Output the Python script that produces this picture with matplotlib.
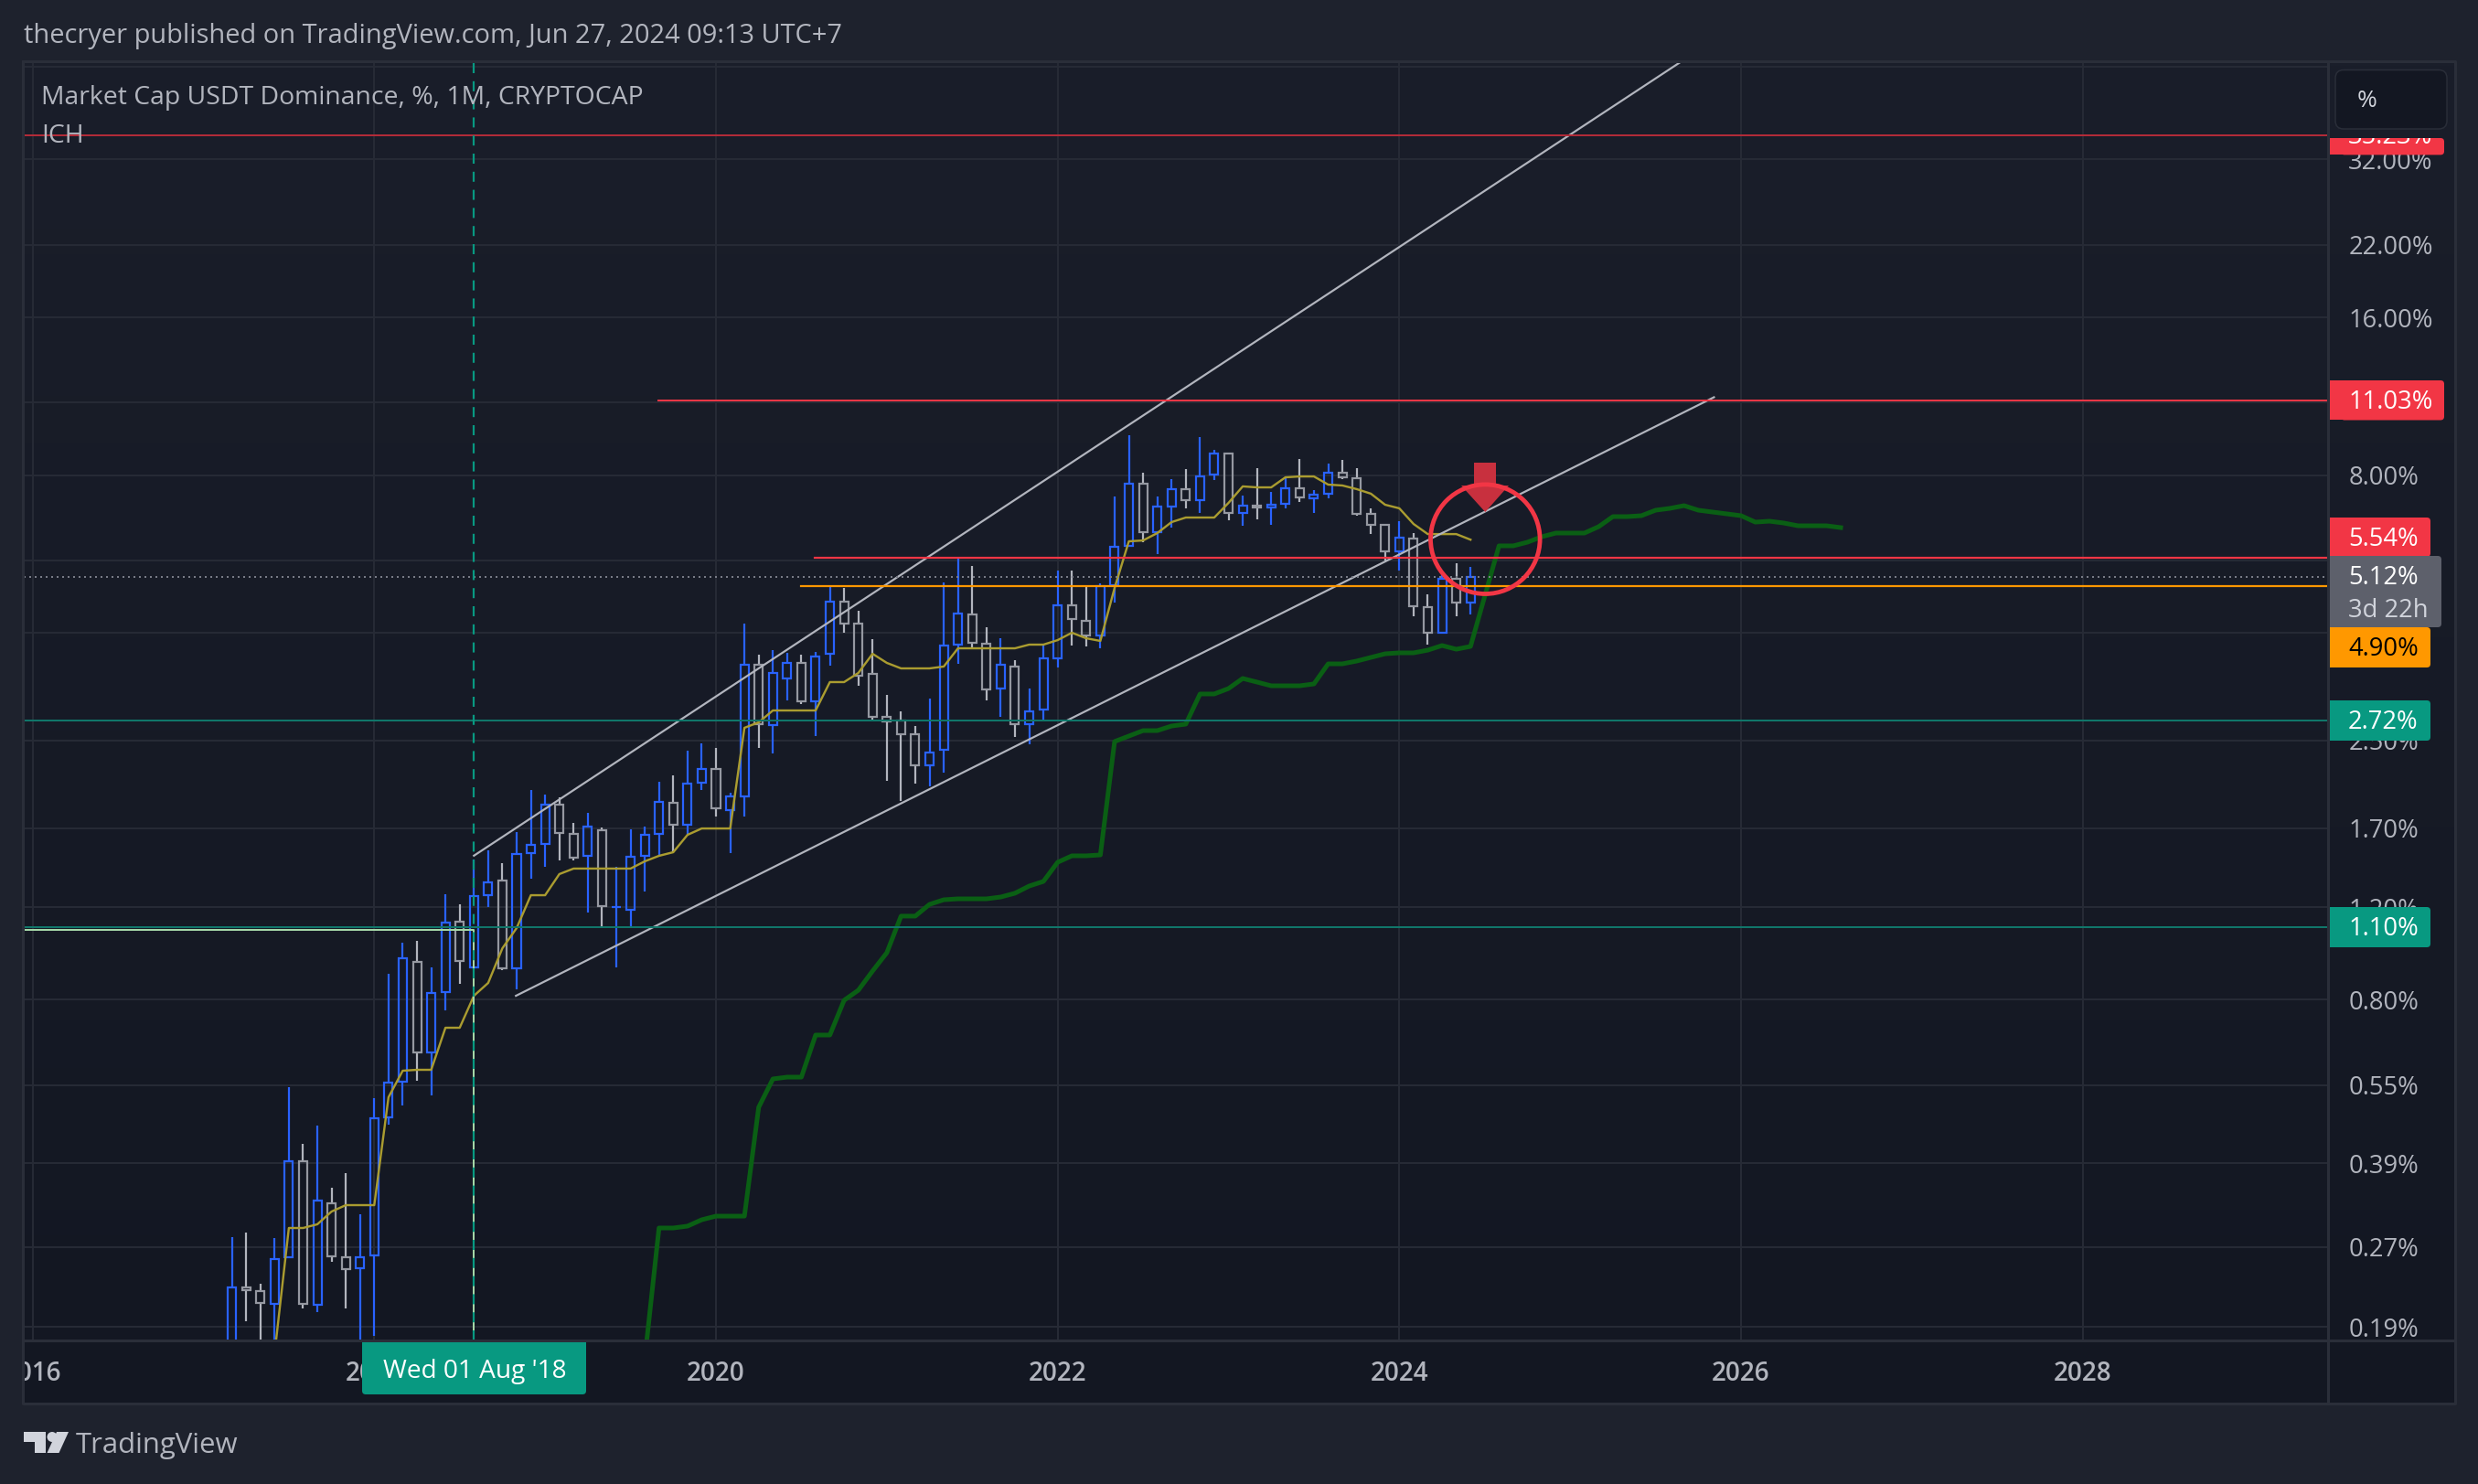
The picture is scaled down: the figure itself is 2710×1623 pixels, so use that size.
import numpy as np
import matplotlib
matplotlib.use('Agg')
import matplotlib.pyplot as plt
from matplotlib.patches import Rectangle, FancyBboxPatch, Circle, Polygon
from matplotlib.colors import LinearSegmentedColormap

plt.rcParams['font.family'] = ['Open Sans', 'DejaVu Sans']

# ---------- data (percent) : months since Aug 2018 ----------
months = list(range(-17, 71))
opens = [0.1564,0.2263,0.2226,0.2105,0.2583,0.3937,0.2096,0.3273,0.2583,0.2462,0.2604,0.4774,0.5583,0.9446,0.6348,
 0.8274,1.127,0.9222,1.266,1.35,0.9185,1.523,1.586,1.884,1.657,1.505,1.684,1.202,1.188,1.505,1.657,1.899,
 1.725,2.075,2.204,1.839,1.954,3.482,2.672,3.279,3.511,2.966,3.654,4.594,4.172,3.345,2.77,2.726,2.567,2.239,
 2.397,3.804,4.343,3.819,3.137,3.455,2.683,2.861,3.582,4.521,4.223,3.96,4.938,5.869,7.711,6.233,6.974,7.527,
 7.173,8.026,8.803,6.781,7.002,6.946,7.059,7.557,7.231,7.378,8.091,7.899,6.754,6.436,5.729,6.06,4.485,4.008,
 5.079,4.576]
highs = [0.2822,0.2879,0.2299,0.281,0.545,0.4249,0.4605,0.3505,0.3737,0.3119,0.5194,0.8966,1.028,1.036,0.9222,1.271,
 1.216,1.481,1.542,1.457,1.67,2.009,1.969,1.946,1.739,1.817,1.704,1.434,1.691,1.711,2.083,2.143,2.388,2.466,
 2.417,1.985,4.172,3.64,3.713,3.669,3.64,3.684,4.938,4.879,4.413,3.897,3.05,2.838,2.661,3.002,4.998,5.57,
 5.373,4.106,3.912,3.553,3.137,3.819,5.266,5.266,4.918,4.978,7.289,9.539,8.091,7.289,7.867,8.222,9.463,8.945,
 8.803,7.319,8.255,7.437,7.93,8.593,7.497,8.423,8.559,8.255,6.919,6.436,6.54,6.208,4.744,5.224,5.438,5.351]
lows = [0.1443,0.195,0.1628,0.1628,0.2583,0.2063,0.203,0.2532,0.2063,0.1502,0.1829,0.4623,0.503,0.5606,0.5257,
 0.7636,0.8579,0.9222,1.202,0.9111,0.8375,1.361,1.434,1.475,1.475,1.173,1.105,0.9222,1.1,1.287,1.505,1.529,
 1.65,2.009,1.788,1.523,1.788,2.417,2.359,2.978,2.93,2.546,3.469,4.008,3.175,2.726,2.092,1.915,2.067,2.042,
 2.168,3.496,3.728,2.978,2.77,2.536,2.456,2.726,3.441,3.789,3.774,3.743,4.576,5.869,5.964,5.66,6.359,6.919,
 6.781,7.835,6.567,6.41,6.593,6.436,6.919,7.116,6.781,7.231,7.867,6.7,6.183,5.504,5.266,4.308,3.804,4.008,
 4.308,4.343]
closes = [0.2263,0.2235,0.2113,0.2562,0.3937,0.2105,0.3313,0.2593,0.2452,0.2583,0.4755,0.5561,0.9599,0.6348,0.8241,
 1.123,0.9484,1.261,1.34,0.9185,1.517,1.579,1.884,1.664,1.493,1.711,1.207,1.202,1.499,1.65,1.907,1.725,2.067,
 2.204,1.854,1.954,3.482,2.683,3.359,3.511,2.966,3.611,4.594,4.172,3.319,2.77,2.715,2.567,2.239,2.369,3.789,
 4.36,3.835,3.125,3.482,2.683,2.838,3.582,4.521,4.257,3.96,4.918,5.845,7.711,6.233,6.974,7.527,7.173,7.962,
 8.803,6.781,7.002,6.946,7.031,7.557,7.26,7.348,8.091,7.93,6.754,6.436,5.729,6.085,4.503,4.008,5.079,4.576,
 5.12]
# conversion line (months -14 .. 70)
conv_m = list(range(-14, 71))
conv_v = [0.1695,0.2937,0.2937,0.2985,0.3157,0.3247,0.3247,0.3247,0.5215,0.5859,0.5882,0.5882,0.7075,0.7075,0.8142,
 0.8613,1.003,1.096,1.266,1.266,1.389,1.423,1.423,1.423,1.423,1.423,1.469,1.505,1.529,1.65,1.697,1.697,1.697,
 2.64,2.704,2.849,2.849,2.849,2.849,3.227,3.227,3.359,3.654,3.511,3.427,3.427,3.427,3.455,3.743,3.743,3.743,3.743,3.743,
 3.804,3.804,3.88,4.008,3.912,3.866,4.879,5.987,6.01,6.208,6.514,6.646,6.646,6.646,7.087,7.62,7.587,7.587,7.93,7.96,7.96,
 7.68,7.65,7.53,7.38,7.03,6.92,6.46,6.18,6.18,6.18,6.03]
# leading span (months 12 .. 96)
span_m = list(range(12, 97))
span_v = [0.1654,0.2937,0.2937,0.2961,0.3045,0.3094,0.3094,0.3094,0.4989,0.5651,0.5696,0.5696,0.6852,0.6852,0.7981,
 0.8341,0.9075,0.9833,1.155,1.155,1.216,1.241,1.246,1.246,1.246,1.256,1.277,1.318,1.345,1.463,1.505,1.505,1.511,
 2.486,2.546,2.608,2.608,2.661,2.683,3.063,3.063,3.137,3.279,3.227,3.175,3.175,3.175,3.201,3.496,3.496,3.539,3.596,
 3.654,3.669,3.669,3.713,3.789,3.728,3.774,4.706,5.869,5.869,5.964,6.109,6.208,6.208,6.208,6.385,6.673,6.673,6.7,
 6.863,6.919,7.002,6.863,6.808,6.754,6.7,6.514,6.54,6.488,6.41,6.41,6.41,6.359]
channel_upper_m = [0, 84.7]
channel_upper_v = [1.506, 49.0]
channel_lower_m = [2.95, 87.1]
channel_lower_v = [0.814, 11.27]
grid_vals = [48, 32, 22, 16, 11, 8, 5.5, 4, 2.5, 1.7, 1.2, 0.8, 0.55, 0.39, 0.27, 0.19]
grid_labels = ['', '32.00%', '22.00%', '16.00%', '11.00%', '8.00%', '5.50%', '4.00%', '2.50%', '1.70%', '1.20%',
               '0.80%', '0.55%', '0.39%', '0.27%', '0.19%']
year_m = [-31, -7, 17, 41, 65, 89, 113]
year_labels = ['2016', '2018', '2020', '2022', '2024', '2026', '2028']
level_top, level_res, level_red, level_last, level_org, level_t1, level_t2, level_path = 35.6, 11.11, 5.57, 5.12, 4.917, 2.726, 1.10, 1.087
level_starts = {'res': 12.95, 'red': 23.94, 'org': 22.97}

# ---------- figure ----------
W, H = 2710, 1623
BG, GRID, TXT = '#1e222d', '#262a35', '#b2b5be'
BLUE, GRAY, WICK = '#2962ff', '#9598a1', '#b2b5be'
RED, ORANGE, TEAL, TEAL_L = '#f23645', '#ff9800', '#089981', '#10766a'
PX = 0.72
fig = plt.figure(figsize=((W + .01) / 100, (H + .01) / 100), dpi=100, facecolor=BG)

# gradient panel
bg = fig.add_axes([0, 0, 1, 1], zorder=0)
bg.set_xlim(0, W); bg.set_ylim(H, 0); bg.axis('off')
cm = LinearSegmentedColormap.from_list('g', ['#1a1e2a', '#131722'])
bg.imshow(np.linspace(0, 1, 256)[:, None], cmap=cm, extent=[25, 2685, 1535, 67], aspect='auto', zorder=0)
bg.set_xlim(0, W); bg.set_ylim(H, 0)

# main axes
L_, R_, T_, B_ = 26, 2546, 67, 1466
ax = fig.add_axes([L_ / W, 1 - B_ / H, (R_ - L_) / W, (B_ - T_) / H], zorder=1)
ax.patch.set_alpha(0)
ax.set_yscale('log')
ax.set_xlim((L_ - 518.3) / 15.57, (R_ - 518.3) / 15.57)
ax.set_ylim(0.19 * np.exp((1451.5 - B_) / 249.1), 0.19 * np.exp((1451.5 - T_) / 249.1))
for s in ax.spines.values():
    s.set_visible(False)
ax.yaxis.tick_right()
ax.yaxis.set_major_locator(plt.FixedLocator(grid_vals))
ax.yaxis.set_major_formatter(plt.FixedFormatter(grid_labels))
ax.yaxis.set_minor_locator(plt.NullLocator())
ax.set_xticks(year_m, year_labels)
ax.tick_params(axis='y', length=0, pad=16, labelsize=19.7, labelcolor=TXT)
ax.tick_params(axis='x', length=0, pad=16, labelsize=20, labelcolor=TXT)
for lab in ax.get_xticklabels():
    lab.set_fontweight('semibold')
ax.grid(True, color=GRID, lw=2 * PX, zorder=0)
ax.set_axisbelow(True)

# candles
m = np.array(months, float)
o, h, l, c = map(np.array, (opens, highs, lows, closes))
up = c >= o
top, bot = np.maximum(o, c), np.minimum(o, c)
ax.vlines(m, top, h, colors=[BLUE if u else WICK for u in up], lw=2.2 * PX, zorder=3)
ax.vlines(m, l, bot, colors=[BLUE if u else WICK for u in up], lw=2.2 * PX, zorder=3)
ax.bar(m, top - bot, bottom=bot, width=0.58, facecolor='none',
       edgecolor=[BLUE if u else GRAY for u in up], lw=2.2 * PX, zorder=3)

# ichimoku
ax.plot(conv_m, conv_v, color='#aa9c30', lw=2.4 * PX, zorder=3.5, solid_joinstyle='round')
ax.plot(span_m, span_v, color='#0a5f14', lw=5 * PX, zorder=2.5, solid_joinstyle='round')

# drawings
xl = ax.get_xlim()
ax.plot([xl[0], 0, 0], [level_path, level_path, 0.1], color='#a5d6a7', lw=2 * PX, zorder=4)
ax.axvline(0, color=TEAL, lw=2.2 * PX, ls=(0, (5, 4)), zorder=4.1)
ax.plot(channel_upper_m, channel_upper_v, color=WICK, lw=2.2 * PX, zorder=4)
ax.plot(channel_lower_m, channel_lower_v, color=WICK, lw=2.2 * PX, zorder=4)
ax.plot(xl, [level_top] * 2, color='#b22b38', lw=2 * PX, zorder=4)
ax.plot([level_starts['res'], xl[1]], [level_res] * 2, color=RED, lw=2 * PX, zorder=4)
ax.plot([level_starts['red'], xl[1]], [level_red] * 2, color=RED, lw=2.2 * PX, zorder=4)
ax.plot([level_starts['org'], xl[1]], [level_org] * 2, color=ORANGE, lw=2.2 * PX, zorder=4)
ax.plot(xl, [level_last] * 2, color='#787b86', lw=2 * PX, ls=(0, (1, 2)), zorder=4)
ax.plot(xl, [level_t1] * 2, color=TEAL_L, lw=2 * PX, zorder=4)
ax.plot(xl, [level_t2] * 2, color=TEAL_L, lw=2 * PX, zorder=4)

# overlay in pixels
ov = fig.add_axes([0, 0, 1, 1], zorder=5)
ov.set_xlim(0, W); ov.set_ylim(H, 0); ov.axis('off'); ov.patch.set_alpha(0)
FR = '#2a2e39'
ov.add_patch(Rectangle((0, 1467), 25, 68, fc=BG, ec='none'))
ov.plot([25, 2685, 2685, 25, 25], [67, 67, 1535, 1535, 67], color=FR, lw=3 * PX)
ov.plot([2546, 2546], [67, 1535], color=FR, lw=3 * PX)
ov.plot([25, 2685], [1466, 1466], color=FR, lw=3 * PX)

# arrow + circle
ov.add_patch(Polygon([(1612, 506), (1636, 506), (1636, 531), (1650, 531), (1624.3, 560), (1598, 531), (1612, 531)],
                     closed=True, fc='#c8303e', ec='none'))
ov.add_patch(Circle((1624.3, 589.7), 59.8, fc='none', ec=RED, lw=4.8 * PX))

def label(y0, y1, x1, color, texts):
    ov.add_patch(FancyBboxPatch((2560, y0), x1 - 2560, y1 - y0, boxstyle='round,pad=0,rounding_size=4',
                                fc=color, ec='none'))
    ov.add_patch(Rectangle((2547, y0), 20, y1 - y0, fc=color, ec='none'))
    for (t, y, col) in texts:
        ov.text(2568, y, t, color=col, fontsize=19.7, va='center', ha='left')

label(151, 169.4, 2673, RED, [])
clipper = Rectangle((2546, 151), 130, 20, fc='none', ec='none')
ov.add_patch(clipper)
t = ov.text(2568, 149.6, '35.23%', color='white', fontsize=19.7, va='center', ha='left')
t.set_clip_on(True)
t.set_clip_path(clipper)
label(416, 459.5, 2673, RED, [('11.03%', 439.5, 'white')])
label(566, 609, 2658, RED, [('5.54%', 589.5, 'white')])
label(686, 730, 2658, ORANGE, [('4.90%', 709.5, 'black')])
label(608, 686, 2670, '#5d606b', [('5.12%', 631.5, 'white'), ('3d 22h', 667.5, '#d1d4dc')])
label(766, 810, 2658, TEAL, [('2.72%', 789.5, 'white')])
label(992, 1036, 2658, TEAL, [('1.10%', 1015.5, 'white')])

# scale mode box
ov.add_patch(FancyBboxPatch((2554, 76.5), 122, 64.5, boxstyle='round,pad=0,rounding_size=9', fc='#131722', ec=FR, lw=1.5 * PX))
ov.text(2578, 110, '%', color='#d1d4dc', fontsize=19, va='center', ha='left')

# time label
ov.add_patch(FancyBboxPatch((396, 1467), 245, 58, boxstyle='round,pad=0,rounding_size=4', fc=TEAL, ec='none'))
ov.add_patch(Rectangle((396, 1466), 245, 20, fc=TEAL, ec='none'))
ov.text(519, 1500, "Wed 01 Aug '18", color='white', fontsize=20.2, va='center', ha='center')

# header / legend / footer
ov.text(26, 39, 'thecryer published on TradingView.com, Jun 27, 2024 09:13 UTC+7', color=TXT, fontsize=20.9, va='center')
ov.text(45, 107, 'Market Cap USDT Dominance, %, 1M, CRYPTOCAP', color=TXT, fontsize=20.4, va='center')
ov.text(45, 149, 'ICH', color=TXT, fontsize=20.4, va='center')
ov.add_patch(Polygon([(26, 1566), (50, 1566), (50, 1589), (38, 1589), (38, 1577), (26, 1577)], fc='#d1d4dc', ec='none'))
ov.add_patch(Circle((57, 1571.5), 5.5, fc='#d1d4dc', ec='none'))
ov.add_patch(Polygon([(62, 1566), (75, 1566), (64.5, 1589), (51.5, 1589)], fc='#d1d4dc', ec='none'))
ov.text(83, 1581, 'TradingView', color=TXT, fontsize=22.4, va='center')

fig.savefig('out.png', dpi=100, facecolor=BG)
